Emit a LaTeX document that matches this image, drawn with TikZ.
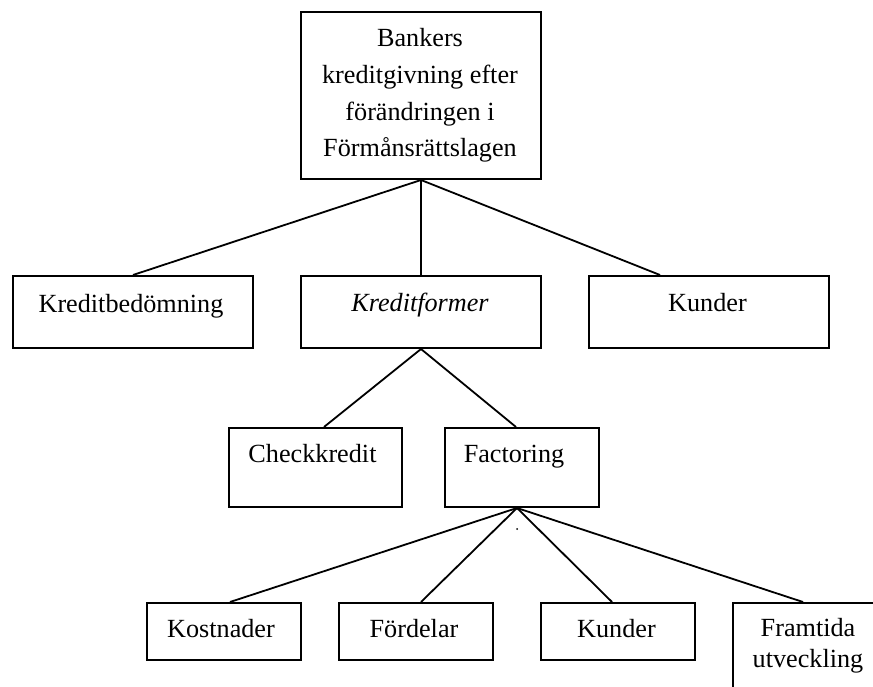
\documentclass[tikz,border=0pt]{standalone}
\usepackage{fontspec}
\setmainfont{Liberation Serif}
\begin{document}
\begin{tikzpicture}[x=1pt,y=-1pt,
  box/.style={draw=black, line width=2pt, fill=white, inner sep=0pt, anchor=north west},
  label text/.style={anchor=base, inner sep=0pt, align=center,
    font=\fontsize{26.2}{36.7}\selectfont},
  link/.style={draw=black, line width=1.8pt}]
\useasboundingbox (0,0) rectangle (873,687);
\clip (0,0) rectangle (873,687);
\fill[white] (0,0) rectangle (873,687);

% boxes
\node[box, minimum width=240pt, minimum height=167pt] (top) at (300,11) {};
\node[box, minimum width=240pt, minimum height=72pt] (kb) at (12,275) {};
\node[box, minimum width=240pt, minimum height=72pt] (kf) at (300,275) {};
\node[box, minimum width=240pt, minimum height=72pt] (ku) at (588,275) {};
\node[box, minimum width=173pt, minimum height=79pt] (ck) at (228,427) {};
\node[box, minimum width=154pt, minimum height=79pt] (fa) at (444,427) {};
\node[box, minimum width=154pt, minimum height=57pt] (ko) at (146,602) {};
\node[box, minimum width=154pt, minimum height=57pt] (fo) at (338,602) {};
\node[box, minimum width=154pt, minimum height=57pt] (kn) at (540,602) {};
\node[box, minimum width=154pt, minimum height=120pt] (fr) at (732,602) {};

% texts (multi-line nodes sit on the baseline of their last line)
\node[label text] (topT) at (420,157) {Bankers\\kreditgivning efter\\förändringen i\\Förmånsrättslagen};
\node[label text] (kbT) at (131,312) {Kreditbedömning};
\node[label text] (kfT) at (420,311) {\itshape Kreditformer};
\node[label text] (kuT) at (707.5,311) {Kunder};
\node[label text] (ckT) at (312.5,462) {Checkkredit};
\node[label text] (faT) at (514,462) {Factoring};
\node[label text] (koT) at (221,637) {Kostnader};
\node[label text] (foT) at (414,637) {Fördelar};
\node[label text] (knT) at (616.5,637) {Kunder};
\node[label text, font=\fontsize{26.2}{30.5}\selectfont] (frT) at (808,667) {Framtida\\utveckling};

% connectors
\coordinate (topS) at (top.south);
\draw[link] (topS) -- ([xshift=121pt]kb.north west);
\draw[link] (topS) -- (kf.north);
\draw[link] (topS) -- ([xshift=72pt]ku.north west);

\draw[link] (kf.south) -- ([xshift=96pt]ck.north west);
\draw[link] (kf.south) -- ([xshift=72pt]fa.north west);

\coordinate (faS) at ([xshift=73pt]fa.south west);
\draw[link] (faS) -- ([xshift=84pt]ko.north west);
\draw[link] (faS) -- ([xshift=83pt]fo.north west);
\draw[link] (faS) -- ([xshift=72pt]kn.north west);
\draw[link] (faS) -- ([xshift=71pt]fr.north west);

% stray dot under Factoring
\fill (517,529) circle (1pt);
\end{tikzpicture}
\end{document}
